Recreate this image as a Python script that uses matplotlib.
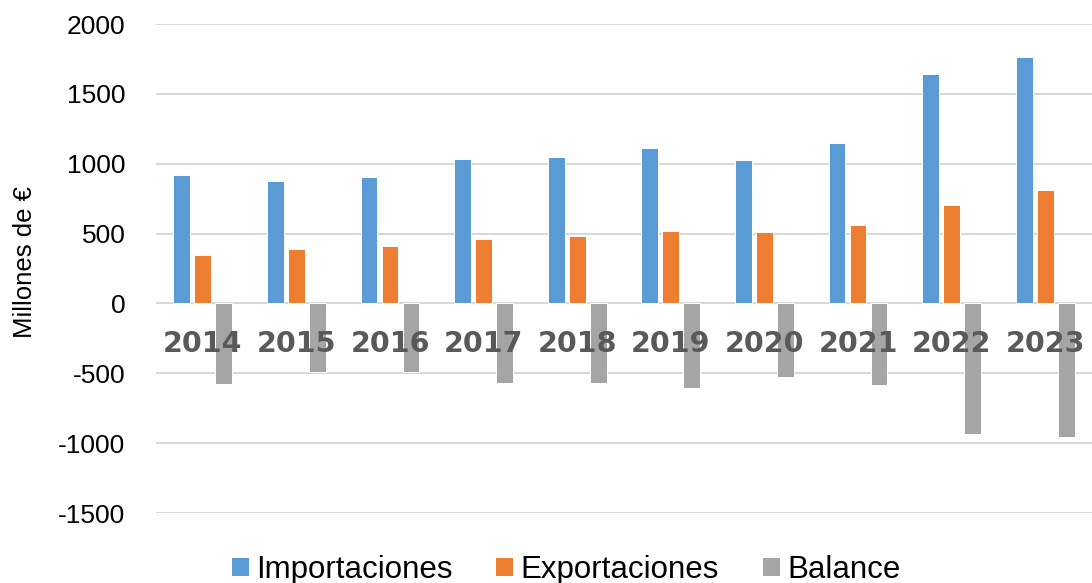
import matplotlib.pyplot as plt
from matplotlib.patches import Patch
import numpy as np

# Data (millions of euros)
years = ['2014', '2015', '2016', '2017', '2018', '2019', '2020', '2021', '2022', '2023']
importaciones = [922, 879, 905, 1032, 1049, 1115, 1029, 1147, 1639, 1763]
exportaciones = [346, 389, 413, 461, 480, 516, 511, 564, 707, 810]
balance = [-576, -492, -492, -571, -569, -605, -523, -585, -932, -953]
series_names = ['Importaciones', 'Exportaciones', 'Balance']
y_ticks = [-1500, -1000, -500, 0, 500, 1000, 1500, 2000]

colors = ['#5B9BD5', '#ED7D31', '#A5A5A5']

plt.rcParams['font.family'] = ['Liberation Sans', 'DejaVu Sans']

fig = plt.figure(figsize=(10.92, 5.83), dpi=100)
ax = fig.add_axes([0.1429, 0.12, 0.8571, 0.8388])

x = np.arange(len(years))
offset = 0.224
width = 0.18
for i, vals in enumerate([importaciones, exportaciones, balance]):
    ax.bar(x + (i - 1) * offset, vals, width, color=colors[i],
           edgecolor='white', linewidth=0.7, zorder=2)

ax.set_xlim(-0.5, len(years) - 0.5)
ax.set_ylim(-1500, 2000)
ax.set_yticks(y_ticks)
ax.set_yticklabels([str(v) for v in y_ticks], fontsize=19)
ax.tick_params(axis='y', length=0, pad=22)
ax.set_xticks([])
ax.grid(axis='y', color='#D9D9D9', linewidth=1.5, zorder=0)
ax.set_axisbelow(True)
for s in ax.spines.values():
    s.set_visible(False)

# year labels sit inside the plot, under the zero line
for xi, yr in zip(x, years):
    ax.text(xi, -290, yr, ha='center', va='center', fontsize=20.5,
            fontweight='bold', color='#595959', family='DejaVu Sans', zorder=5)

fig.text(25 / 1092, 1 - 262 / 583, 'Millones de €', rotation=90,
         ha='center', va='center', fontsize=18.5)

handles = [Patch(facecolor=c, edgecolor='none') for c in colors]
fig.legend(handles, series_names, loc='center', bbox_to_anchor=(566 / 1092, 13 / 583),
           ncol=3, frameon=False, fontsize=22.5, handlelength=0.55, handleheight=0.55,
           handletextpad=0.23, columnspacing=1.4, borderpad=0)

fig.savefig('out.png', dpi=100)
